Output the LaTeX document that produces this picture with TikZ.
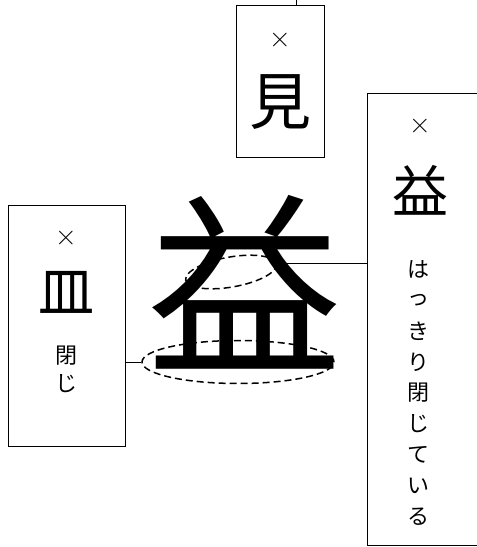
\documentclass[tikz,border=0pt]{standalone}
\usepackage{fontspec}
\newfontfamily\cjk{Noto Sans CJK JP}
\usetikzlibrary{shapes.geometric}
\tikzset{
  box/.style={draw, line width=1pt, rectangle, inner sep=0pt},
  dash ell/.style={draw, ellipse, line width=1.5pt, dash pattern=on 7pt off 4pt, inner sep=0pt},
  conn/.style={draw, line width=1pt},
  ch/.style={inner sep=0pt, font=\cjk},
  cross/.style={inner sep=0pt, font=\fontsize{30}{30}\selectfont},
}
\begin{document}
\begin{tikzpicture}[x=1pt,y=-1pt]
\useasboundingbox (0,0) rectangle (477,547);
% top box
\node[box, minimum width=88pt, minimum height=152pt] (topbox) at (280,81) {};
\coordinate (topend) at (296,0);
\draw[conn] (topbox.north -| topend) -- (topend);
\node[cross] (tx1) at (280,40) {×};
\node[ch, font=\cjk\fontsize{62}{62}\selectfont] (mi) at (280,102) {見};
% right box (open on the right)
\coordinate (rtl) at (367,93);
\coordinate (rbl) at (367,545);
\draw[conn] (477,93) -- (rtl) -- (rbl) -- (477,545);
\node[cross] (tx2) at (420,126) {×};
\node[ch, font=\cjk\fontsize{56}{56}\selectfont] (eki2) at (420,190) {益};
\foreach \c [count=\i] in {は,っ,き,り,閉,じ,て,い,る} {
  \node[ch, font=\cjk\fontsize{22}{22}\selectfont] (v\i) at (418,{238+31*\i}) {\c};
}
% left box
\node[box, minimum width=117pt, minimum height=241pt] (leftbox) at (66.5,325.5) {};
\node[cross] (tx3) at (66,238) {×};
\node[ch, font=\cjk\fontsize{56}{56}\selectfont] (sara) at (66,292) {皿};
\node[ch, font=\cjk\fontsize{22}{22}\selectfont] (hei) at (66,356) {閉};
\node[ch, font=\cjk\fontsize{22}{22}\selectfont] (ji) at (66,384) {じ};
% big character
\node[ch, font=\cjk\fontsize{195}{195}\selectfont] (big) at (245,282) {益};
% ellipses
\node[dash ell, minimum width=92pt, minimum height=30pt, rotate=10] (e1) at (231,272) {};
\node[dash ell, minimum width=192pt, minimum height=43pt] (e2) at (238,362) {};
% connectors
\draw[conn] (e1.east) -- (e1.east -| rtl);
\draw[conn] (leftbox.east |- e2.west) -- (e2.west);
\end{tikzpicture}
\end{document}
